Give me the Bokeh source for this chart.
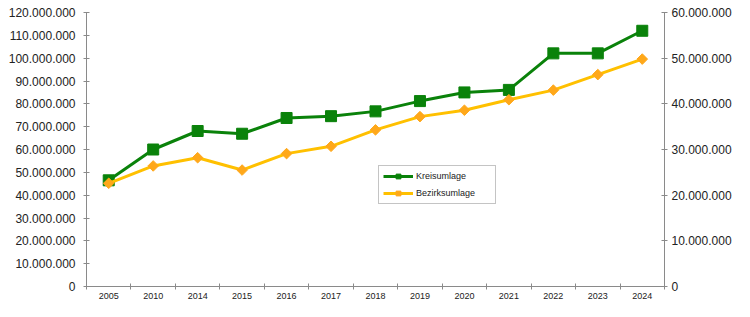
from bokeh.plotting import figure
from bokeh.models import (Range1d, LinearAxis, FixedTicker, CustomJSTickFormatter,
                          Legend, LegendItem, ColumnDataSource)
from bokeh.embed import file_html
from bokeh.resources import INLINE

years = ["2005", "2010", "2014", "2015", "2016", "2017", "2018", "2019",
         "2020", "2021", "2022", "2023", "2024"]
kreisumlage = [46.5e6, 60.0e6, 68.1e6, 66.9e6, 73.8e6, 74.6e6, 76.7e6, 81.2e6,
               85.0e6, 86.1e6, 102.1e6, 102.1e6, 112.0e6]
bezirksumlage = [22.6e6, 26.4e6, 28.2e6, 25.5e6, 29.1e6, 30.7e6, 34.3e6, 37.2e6,
                 38.6e6, 40.9e6, 43.0e6, 46.4e6, 49.8e6]
left_ticks = [0, 10e6, 20e6, 30e6, 40e6, 50e6, 60e6, 70e6, 80e6, 90e6, 100e6, 110e6, 120e6]
right_ticks = [0, 10e6, 20e6, 30e6, 40e6, 50e6, 60e6]

idx = list(range(len(years)))
src = ColumnDataSource(dict(x=idx, k=kreisumlage, b=bezirksumlage))

FONT = "Liberation Sans"
GREEN = "#0a820a"
YLINE = "#ffc000"
YMARK = "#ffa81a"
AXC = "#8a8a8a"

p = figure(width=734, height=301, output_backend="svg", toolbar_location=None,
           x_range=Range1d(-0.5, len(years) - 0.5), y_range=Range1d(0, 120e6),
           min_border_left=86, min_border_right=68, min_border_top=12,
           min_border_bottom=4)
p.extra_y_ranges = {"right": Range1d(0, 60e6)}
p.outline_line_color = None
p.xgrid.visible = False
p.ygrid.visible = False
p.background_fill_color = "white"

fmt = CustomJSTickFormatter(code="""
return Math.round(tick).toString().replace(/\\B(?=(\\d{3})+(?!\\d))/g, '.');
""")

def style_axis(ax, size="12px"):
    ax.axis_line_color = AXC
    ax.major_tick_line_color = AXC
    ax.minor_tick_line_color = AXC
    ax.major_label_text_font = FONT
    ax.major_label_text_font_size = size
    ax.major_label_text_color = "#222222"
    ax.major_tick_in = 3
    ax.major_tick_out = 3

# left axis
yax = p.yaxis[0]
yax.ticker = FixedTicker(ticks=left_ticks, minor_ticks=[])
yax.formatter = fmt
yax.major_label_standoff = 8
style_axis(yax)

# right axis
rax = LinearAxis(y_range_name="right", ticker=FixedTicker(ticks=right_ticks, minor_ticks=[]),
                 formatter=fmt)
style_axis(rax)
rax.major_label_standoff = 4
p.add_layout(rax, "right")

# x axis: labels at category centers, ticks at boundaries
xax = p.xaxis[0]
xax.ticker = FixedTicker(ticks=idx, minor_ticks=[i - 0.5 for i in range(len(years) + 1)])
xax.major_label_overrides = {i: y for i, y in zip(idx, years)}
style_axis(xax, "9px")
xax.major_tick_in = 0
xax.major_tick_out = 0
xax.minor_tick_in = 3
xax.minor_tick_out = 3
xax.major_label_standoff = 3

kl = p.line("x", "k", source=src, line_color=GREEN, line_width=3)
ks = p.scatter("x", "k", source=src, marker="square", size=11,
               fill_color=GREEN, line_color=GREEN)
bl = p.line("x", "b", source=src, line_color=YLINE, line_width=3, y_range_name="right")
bs = p.scatter("x", "b", source=src, marker="square", angle=0.785398, size=7.5,
               fill_color=YMARK, line_color=YMARK, y_range_name="right")

legend = Legend(items=[LegendItem(label="Kreisumlage", renderers=[kl, ks]),
                       LegendItem(label="Bezirksumlage", renderers=[bl, bs])],
                location=(292, 82), orientation="vertical")
legend.label_text_font = FONT
legend.label_text_font_size = "9px"
legend.label_text_color = "#222222"
legend.glyph_width = 30
legend.glyph_height = 12
legend.label_height = 12
legend.label_width = 75
legend.label_standoff = 3
legend.spacing = 5
legend.padding = 4
legend.margin = 0
legend.border_line_color = "#8a8a8a"
legend.border_line_width = 1
legend.background_fill_color = "white"
legend.background_fill_alpha = 1.0
p.add_layout(legend, "center")

open("out.html", "w").write(file_html(p, INLINE))
